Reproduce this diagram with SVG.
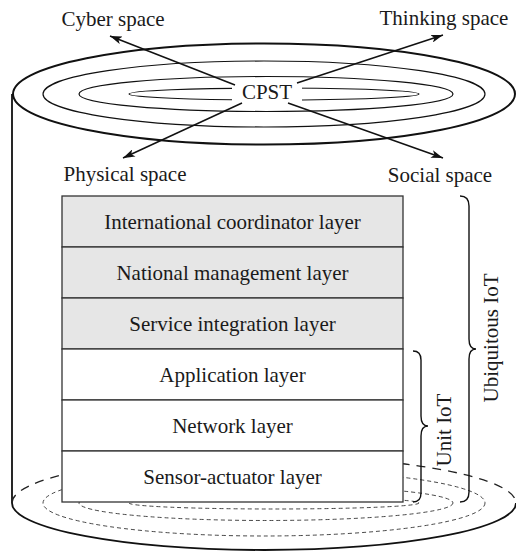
<svg xmlns="http://www.w3.org/2000/svg" width="516" height="551" viewBox="0 0 516 551">
<defs>
<marker id="ah" viewBox="0 0 12 8" refX="12" refY="4" markerWidth="12" markerHeight="8" markerUnits="userSpaceOnUse" orient="auto">
<path d="M0,0 L12,4 L0,8 L3,4 Z" fill="#111"/>
</marker>
<style>
text{font-family:"Liberation Serif","Times New Roman",serif;font-size:21px;fill:#1a1a1a;text-anchor:middle}
.solid{fill:none;stroke:#111}
.ring{fill:none;stroke:#111;stroke-width:1.2}
.dring{fill:none;stroke:#333;stroke-width:0.9;stroke-dasharray:4 3}
.layer rect{stroke:#333;stroke-width:1.3}
.gray rect{fill:#e6e6e6}
.white rect{fill:#fff}
.arrow{fill:none;stroke:#111;stroke-width:1.5;marker-end:url(#ah)}
.brace{fill:none;stroke:#111;stroke-width:1.4}
</style>
</defs>

<g id="cylinder">
<path class="solid" stroke-width="1.8" d="M12,94 V503 A252,47 0 0 0 516,503"/>
<path fill="none" stroke="#222" stroke-width="1.3" stroke-dasharray="9 7" d="M12,503 A252,47 0 0 1 516,503"/>
<ellipse class="dring" cx="264" cy="503" rx="221" ry="33"/>
<ellipse class="dring" cx="266" cy="503" rx="187" ry="17.5"/>
<ellipse class="dring" cx="274" cy="503" rx="145" ry="6"/>
<ellipse class="solid" stroke-width="2" cx="264" cy="94" rx="251" ry="50.5"/>
<ellipse class="ring" cx="264" cy="94" rx="221" ry="33"/>
<ellipse class="ring" cx="266" cy="94" rx="187" ry="17.5"/>
<ellipse class="ring" cx="274" cy="94" rx="145" ry="6"/>
</g>

<g id="cpst">
<rect x="232" y="80" width="70" height="28" fill="#fff"/>
<text x="267" y="99">CPST</text>
</g>

<g id="connectors">
<line class="arrow" x1="235" y1="85" x2="110" y2="36"/>
<line class="arrow" x1="297" y1="83" x2="443" y2="35"/>
<line class="arrow" x1="242" y1="103" x2="123" y2="158"/>
<line class="arrow" x1="288" y1="103" x2="443" y2="158"/>
</g>

<g id="cyber"><text x="113" y="26">Cyber space</text></g>
<g id="thinking"><text x="444" y="25">Thinking space</text></g>
<g id="physical"><text x="125" y="181">Physical space</text></g>
<g id="social"><text x="440" y="182">Social space</text></g>

<g id="international" class="layer gray"><rect x="62" y="196" width="341" height="51"/><text x="232.5" y="229">International coordinator layer</text></g>
<g id="national" class="layer gray"><rect x="62" y="247" width="341" height="51"/><text x="232.5" y="280">National management layer</text></g>
<g id="service" class="layer gray"><rect x="62" y="298" width="341" height="51"/><text x="232.5" y="331">Service integration layer</text></g>
<g id="application" class="layer white"><rect x="62" y="349" width="341" height="51"/><text x="232.5" y="382">Application layer</text></g>
<g id="network" class="layer white"><rect x="62" y="400" width="341" height="51"/><text x="232.5" y="433">Network layer</text></g>
<g id="sensor" class="layer white"><rect x="62" y="451" width="341" height="51"/><text x="232.5" y="484">Sensor-actuator layer</text></g>

<g id="ubiquitous">
<path class="brace" d="M460,196 Q469,196 469,206 V339 Q469,349 476,349 Q469,349 469,359 V492 Q469,502 460,502"/>
<text transform="translate(498,338) rotate(-90)">Ubiquitous IoT</text>
</g>
<g id="unit">
<path class="brace" d="M413,351 Q421,351 421,360 V416 Q421,426 428,426 Q421,426 421,436 V493 Q421,502 413,502"/>
<text transform="translate(451,430) rotate(-90)">Unit IoT</text>
</g>
</svg>
